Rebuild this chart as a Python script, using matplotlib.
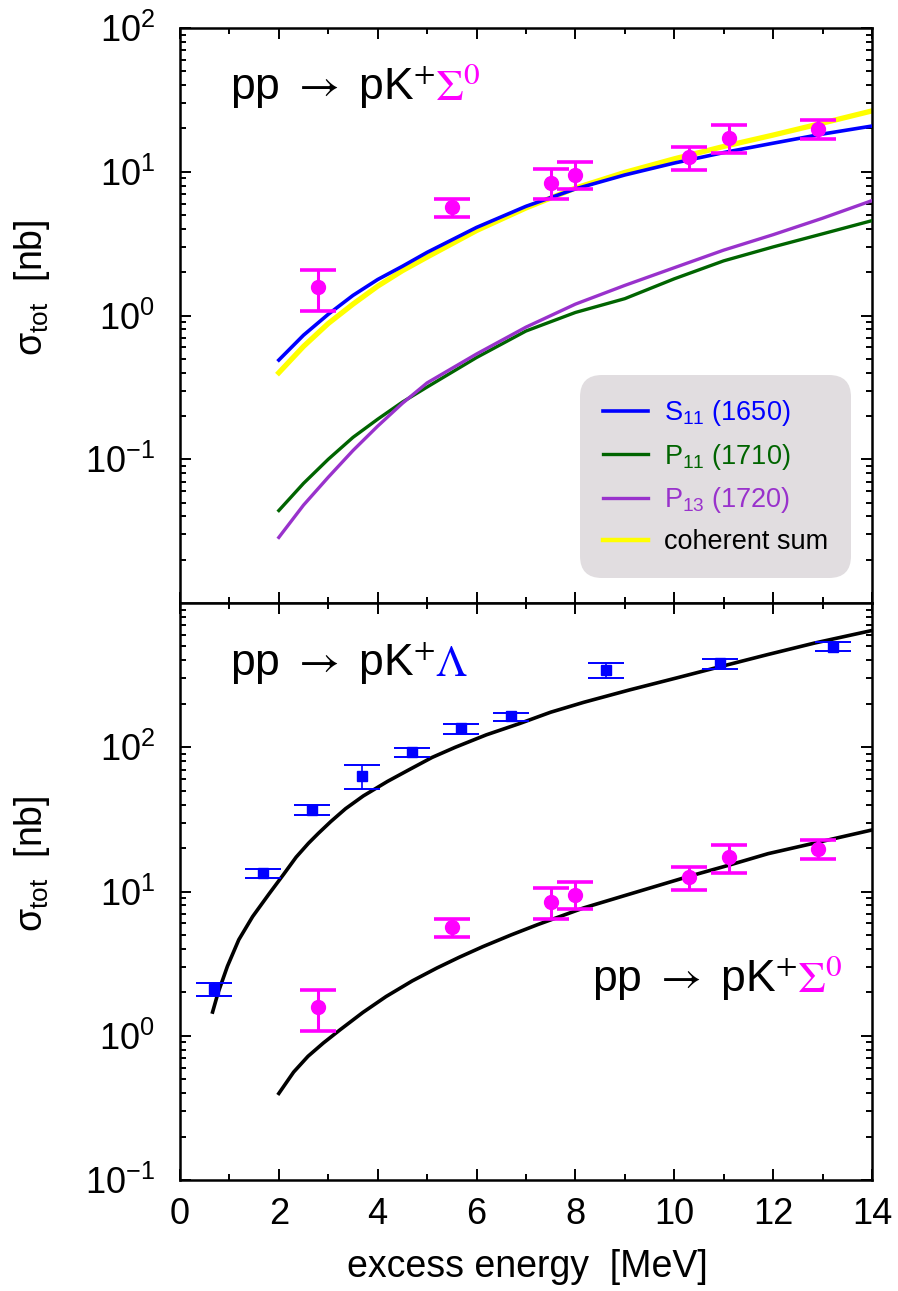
import numpy as np
import matplotlib
matplotlib.use('Agg')
import matplotlib.pyplot as plt
from matplotlib.ticker import LogLocator, MultipleLocator, FuncFormatter, NullFormatter

plt.rcParams['font.family'] = ['Liberation Sans', 'DejaVu Sans']
plt.rcParams['mathtext.fontset'] = 'custom'
plt.rcParams['mathtext.rm'] = 'Liberation Sans'
plt.rcParams['mathtext.it'] = 'Liberation Sans:italic'
plt.rcParams['mathtext.bf'] = 'Liberation Sans:bold'

# --- data ---
# pp -> pK+ Sigma0 (both panels)
x_sig = [2.8, 5.5, 7.5, 8.0, 10.3, 11.1, 12.9]
y_sig = [1.57, 5.65, 8.4, 9.5, 12.6, 17.3, 19.8]
hi_sig = [2.07, 6.46, 10.5, 11.7, 14.9, 21.1, 22.9]
lo_sig = [1.08, 4.82, 6.46, 7.58, 10.3, 13.5, 16.9]

# pp -> pK+ Lambda
x_lam = [0.68, 1.69, 2.68, 3.69, 4.69, 5.69, 6.69, 8.61, 10.92, 13.22]
y_lam = [2.1, 13.4, 36.6, 63, 92.9, 135, 164, 343, 383, 498]
hi_lam = [2.32, 14.3, 39.5, 75, 98.4, 144, 173, 383, 408, 536]
lo_lam = [1.89, 12.5, 34.0, 51, 85.7, 124, 151, 301, 350, 464]

# resonance model curves (top panel)
x_th = [2, 2.5, 3, 3.5, 4, 4.5, 5, 6, 7, 8, 9, 10, 11, 12, 13, 14]
s11 = [0.49, 0.73, 1.02, 1.38, 1.78, 2.2, 2.75, 4.1, 5.75, 7.6, 9.5, 11.5, 13.6, 15.8, 18.3, 20.8]
p11 = [0.044, 0.068, 0.10, 0.142, 0.19, 0.25, 0.318, 0.51, 0.78, 1.05, 1.31, 1.8, 2.4, 3.0, 3.7, 4.57]
p13 = [0.0286, 0.048, 0.075, 0.115, 0.17, 0.245, 0.34, 0.54, 0.83, 1.2, 1.62, 2.15, 2.85, 3.65, 4.75, 6.3]
coh = [0.40, 0.61, 0.88, 1.2, 1.6, 2.05, 2.55, 3.9, 5.6, 7.7, 9.9, 12.3, 15.0, 18.0, 21.8, 26.5]

# fit curves (bottom panel)
x_lam_fit = [0.66, 0.77, 0.96, 1.19, 1.47, 1.8, 2.1, 2.35, 2.6, 2.8, 3.05, 3.35, 3.71, 4.2, 4.64,
             5.1, 5.57, 6.2, 6.87, 7.5, 8.17, 9.1, 10.04, 10.97, 11.9, 12.83, 14.0]
y_lam_fit = [1.46, 1.98, 3.03, 4.63, 6.7, 9.6, 13.2, 17.3, 21.6, 25.3, 30.5, 37.5, 46, 58, 70,
             85, 100, 122, 146, 175, 205, 250, 302, 365, 440, 527, 645]
x_sig_fit = [2.0, 2.3, 2.59, 2.9, 3.24, 3.7, 4.17, 4.7, 5.2, 5.65, 6.13, 6.7, 7.24, 8.17, 9.1,
             10.32, 11.1, 11.9, 13.0, 14.0]
y_sig_fit = [0.398, 0.56, 0.72, 0.89, 1.10, 1.45, 1.87, 2.4, 2.95, 3.5, 4.15, 5.0, 5.9, 7.7, 9.6,
             12.8, 15.2, 18.3, 22.3, 26.7]

MAG = '#ff00ff'
BLU = '#0000ff'
GRN = '#006400'
PUR = '#9932cc'
YEL = '#ffff00'

fig = plt.figure(figsize=(8.98, 12.91), dpi=100)
ax1 = fig.add_axes([0.2004, 0.5329, 0.7706, 0.4454])
ax2 = fig.add_axes([0.2004, 0.0860, 0.7706, 0.4469])


def log_fmt(v, pos):
    e = int(round(np.log10(v)))
    return r'$\mathregular{10^{%d}}$' % e


def style(ax, ylim):
    ax.set_yscale('log')
    ax.set_xlim(0, 14)
    ax.set_ylim(*ylim)
    ax.set_yticks([0.1, 1, 10, 100])
    ax.yaxis.set_major_formatter(FuncFormatter(log_fmt))
    ax.yaxis.set_minor_locator(LogLocator(base=10, subs=np.arange(2, 10)))
    ax.yaxis.set_minor_formatter(NullFormatter())
    ax.xaxis.set_major_locator(MultipleLocator(2))
    ax.xaxis.set_minor_locator(MultipleLocator(1))
    ax.tick_params(which='both', direction='in', top=True, right=True, width=1.4)
    ax.tick_params(which='major', length=8, labelsize=26)
    ax.tick_params(which='minor', length=4.5)
    ax.tick_params(axis='y', pad=18)
    ax.tick_params(axis='x', pad=12)
    for sp in ax.spines.values():
        sp.set_linewidth(1.8)


style(ax1, (1e-2, 1e2))
style(ax2, (1e-1, 1e3))
ax1.tick_params(labelbottom=False)

# top panel
ax1.plot(x_th, coh, color=YEL, lw=3.8, zorder=2)
h_s11, = ax1.plot(x_th, s11, color=BLU, lw=2.6, zorder=3, label=r'S$_{11}$ (1650)')
h_p11, = ax1.plot(x_th, p11, color=GRN, lw=2.4, zorder=3, label=r'P$_{11}$ (1710)')
h_p13, = ax1.plot(x_th, p13, color=PUR, lw=2.4, zorder=3, label=r'P$_{13}$ (1720)')
h_coh, = ax1.plot([], [], color=YEL, lw=3.2, label='coherent sum')

y = np.array(y_sig)
err_sig = [y - np.array(lo_sig), np.array(hi_sig) - y]
for ax in (ax1, ax2):
    ax.errorbar(x_sig, y_sig, yerr=err_sig, fmt='o', color=MAG, ms=10, elinewidth=2.2,
                capsize=13, capthick=2.6, zorder=5)

leg = ax1.legend(handles=[h_s11, h_p11, h_p13, h_coh], loc='lower right',
                 bbox_to_anchor=(0.9697, 0.0435), borderaxespad=0, fontsize=19.5,
                 handlelength=1.65, handletextpad=0.6, labelspacing=0.5, borderpad=0.85,
                 fancybox=True, facecolor='#e1dde0', edgecolor='none', framealpha=1,
                 labelcolor=[BLU, GRN, PUR, 'black'])
leg.get_frame().set_boxstyle('round', pad=0, rounding_size=0.8)

# bottom panel
ax2.plot(x_lam_fit, y_lam_fit, color='black', lw=2.6, zorder=3)
ax2.plot(x_sig_fit, y_sig_fit, color='black', lw=2.6, zorder=3)
yl = np.array(y_lam)
err_lam = [yl - np.array(lo_lam), np.array(hi_lam) - yl]
ax2.errorbar(x_lam, y_lam, yerr=err_lam, fmt='s', color=BLU, ms=7.5, elinewidth=1.2,
             capsize=13, capthick=1.4, zorder=5)

# reaction labels
renderer = fig.canvas.get_renderer()


def formula(ax, x, y, parts, size=32):
    for s, color, mff in parts:
        t = ax.text(x, y, s, transform=ax.transAxes, color=color, fontsize=size,
                    va='baseline', ha='left', math_fontfamily=mff)
        bb = t.get_window_extent(renderer=renderer)
        x = ax.transAxes.inverted().transform((bb.x1, bb.y0))[0]


formula(ax1, 0.072, 0.875, [(r'pp $\rightarrow$ pK$^{+}$', 'black', 'stix'),
                            (r'$\Sigma^{0}$', MAG, 'stix')])
formula(ax2, 0.072, 0.873, [(r'pp $\rightarrow$ pK$^{+}$', 'black', 'stix'),
                            (r'$\Lambda$', BLU, 'stix')])
formula(ax2, 0.595, 0.326, [(r'pp $\rightarrow$ pK$^{+}$', 'black', 'stix'),
                            (r'$\Sigma^{0}$', MAG, 'stix')])

# axis titles
fig.text(0.0356, 0.777, r'σ$_{\rm tot}$  [nb]', rotation=90, ha='center', va='center', fontsize=27)
fig.text(0.0356, 0.331, r'σ$_{\rm tot}$  [nb]', rotation=90, ha='center', va='center', fontsize=27)
fig.text(0.587, 0.0108, 'excess energy  [MeV]', ha='center', va='baseline', fontsize=27)

fig.savefig('out.png', dpi=100)
